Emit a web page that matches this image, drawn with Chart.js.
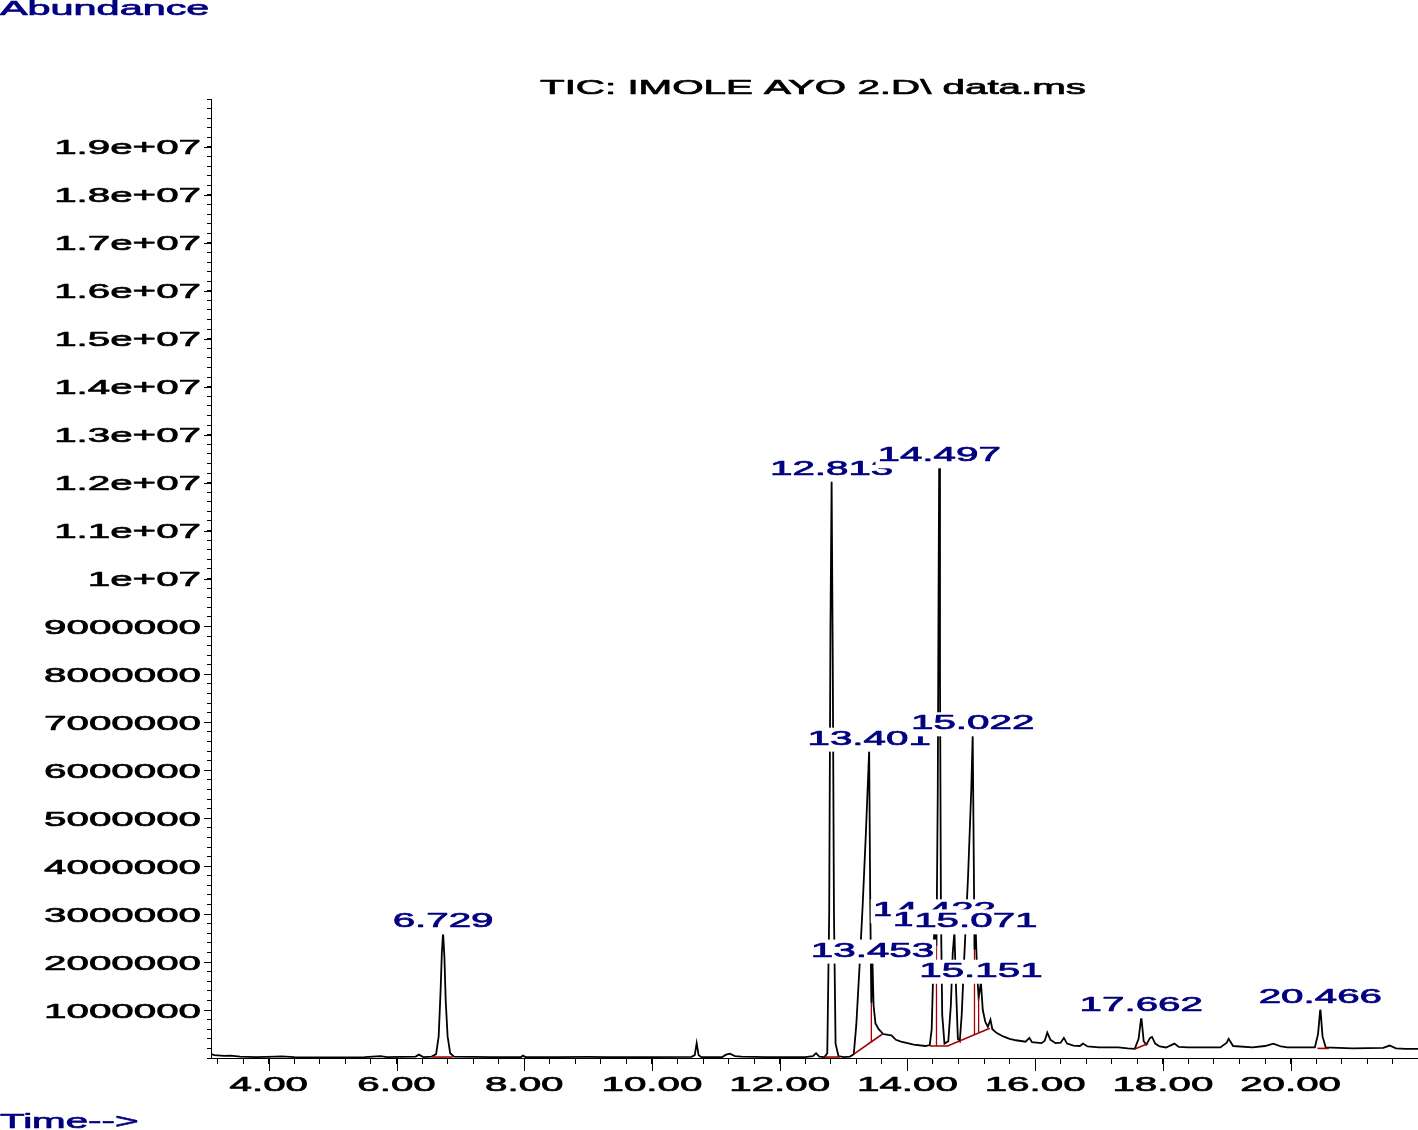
<!DOCTYPE html>
<html>
<head>
<meta charset="utf-8">
<script src="https://cdn.jsdelivr.net/npm/chart.js@4.4.1/dist/chart.umd.min.js"></script>
<style>
  html, body { margin: 0; padding: 0; background: #ffffff; }
  canvas { display: block; }
</style>
</head>
<body>
<canvas id="c" width="1418" height="1130"></canvas>
<script>
// ---- data (time in min, abundance in counts) ----
const retentionTime = [
  3.095, 3.15, 3.3, 3.4, 3.55, 3.8, 4.1, 4.2, 4.4, 5.0,
  5.5, 5.75, 5.85, 6.3, 6.35, 6.42, 6.55, 6.62, 6.66, 6.69,
  6.71, 6.729, 6.75, 6.77, 6.8, 6.84, 6.9, 7.5, 7.95, 7.98,
  8.02, 8.5, 9.0, 9.3, 10.0, 10.62, 10.67, 10.70, 10.73, 10.77,
  11.1, 11.16, 11.22, 11.3, 11.4, 11.8, 12.4, 12.52, 12.57, 12.62,
  12.7, 12.745, 12.775, 12.795, 12.813, 12.83, 12.85, 12.875, 12.92, 13.0,
  13.1, 13.16, 13.2, 13.25, 13.3, 13.35, 13.401, 13.418, 13.435, 13.453,
  13.47, 13.5, 13.55, 13.62, 13.7, 13.75, 13.82, 13.9, 14.0, 14.1,
  14.28, 14.35, 14.38, 14.4, 14.422, 14.455, 14.475, 14.487, 14.497, 14.51,
  14.525, 14.545, 14.58, 14.64, 14.68, 14.71, 14.736, 14.76, 14.79, 14.82,
  14.85, 14.89, 14.95, 15.0, 15.022, 15.04, 15.05, 15.071, 15.09, 15.115,
  15.151, 15.18, 15.22, 15.26, 15.3, 15.33, 15.4, 15.5, 15.6, 15.7,
  15.85, 15.91, 15.95, 16.1, 16.15, 16.19, 16.24, 16.32, 16.4, 16.45,
  16.5, 16.6, 16.7, 16.75, 16.82, 17.0, 17.3, 17.45, 17.56, 17.62,
  17.662, 17.7, 17.74, 17.8, 17.83, 17.88, 17.95, 18.05, 18.18, 18.25,
  18.4, 18.9, 19.0, 19.03, 19.1, 19.4, 19.6, 19.73, 19.85, 19.95,
  20.38, 20.43, 20.466, 20.5, 20.55, 20.97, 21.45, 21.55, 21.65, 21.8,
  22.0
];
const abundance = [
  0.08e6, 0.06e6, 0.045e6, 0.05e6, 0.03e6, 0.02e6, 0.03e6, 0.035e6, 0.02e6, 0.015e6,
  0.02e6, 0.04e6, 0.02e6, 0.03e6, 0.07e6, 0.02e6, 0.03e6, 0.08e6, 0.45e6, 1.4e6,
  2.2e6, 2.61e6, 2.1e6, 1.2e6, 0.45e6, 0.1e6, 0.03e6, 0.02e6, 0.02e6, 0.05e6,
  0.02e6, 0.02e6, 0.025e6, 0.02e6, 0.02e6, 0.025e6, 0.06e6, 0.31e6, 0.06e6, 0.02e6,
  0.02e6, 0.07e6, 0.09e6, 0.04e6, 0.03e6, 0.02e6, 0.02e6, 0.04e6, 0.1e6, 0.03e6,
  0.02e6, 0.1e6, 3.0e6, 9.0e6, 12.05e6, 8.5e6, 3.0e6, 0.3e6, 0.04e6, 0.02e6,
  0.03e6, 0.08e6, 0.7e6, 1.9e6, 3.2e6, 4.7e6, 6.42e6, 3.2e6, 1.15e6, 2.0e6,
  1.1e6, 0.72e6, 0.6e6, 0.5e6, 0.48e6, 0.47e6, 0.38e6, 0.34e6, 0.31e6, 0.28e6,
  0.25e6, 0.27e6, 0.6e6, 1.6e6, 2.84e6, 2.33e6, 5.5e6, 9.5e6, 12.33e6, 8.0e6,
  3.0e6, 0.9e6, 0.3e6, 0.35e6, 1.1e6, 2.2e6, 2.63e6, 1.5e6, 0.4e6, 0.35e6,
  0.9e6, 2.1e6, 3.8e6, 5.6e6, 6.74e6, 4.0e6, 2.26e6, 2.61e6, 1.8e6, 1.25e6,
  1.58e6, 1.0e6, 0.75e6, 0.65e6, 0.8e6, 0.6e6, 0.52e6, 0.45e6, 0.4e6, 0.37e6,
  0.34e6, 0.42e6, 0.33e6, 0.31e6, 0.36e6, 0.53e6, 0.38e6, 0.31e6, 0.32e6, 0.42e6,
  0.3e6, 0.26e6, 0.25e6, 0.3e6, 0.24e6, 0.22e6, 0.22e6, 0.2e6, 0.19e6, 0.4e6,
  0.86e6, 0.35e6, 0.28e6, 0.42e6, 0.44e6, 0.3e6, 0.24e6, 0.22e6, 0.3e6, 0.23e6,
  0.22e6, 0.22e6, 0.32e6, 0.4e6, 0.25e6, 0.22e6, 0.25e6, 0.3e6, 0.24e6, 0.22e6,
  0.22e6, 0.5e6, 1.04e6, 0.45e6, 0.22e6, 0.2e6, 0.21e6, 0.26e6, 0.2e6, 0.19e6,
  0.19e6
];

// integration baselines (red)
const baselineTimes = [
  [6.56, 6.88],
  [12.70, 12.94],
  [13.16, 13.61],
  [14.35, 14.63, 15.29],
  [17.56, 17.77],
  [20.42, 20.60]
];
const baselineLevels = [
  [0.02e6, 0.02e6],
  [0.02e6, 0.02e6],
  [0.08e6, 0.50e6],
  [0.25e6, 0.25e6, 0.62e6],
  [0.19e6, 0.30e6],
  [0.20e6, 0.20e6]
];
// drop lines between unresolved peaks (red)
const dropTimes  = [13.435, 14.455, 15.05, 15.115];
const dropBottom = [0.34e6, 0.25e6, 0.49e6, 0.53e6];
const dropTop    = [1.15e6, 2.33e6, 2.26e6, 1.25e6];

// peak annotations
const peakTimes  = [6.729, 12.813, 13.401, 13.453, 14.422, 14.497, 14.736, 15.022, 15.071, 15.151, 17.662, 20.466];
const peakLabels = ['6.729', '12.813', '13.401', '13.453', '14.422', '14.497', '14.736', '15.022', '15.071', '15.151', '17.662', '20.466'];
const peakApex   = [2.61e6, 12.05e6, 6.42e6, 2.0e6, 2.84e6, 12.33e6, 2.63e6, 6.74e6, 2.61e6, 1.58e6, 0.86e6, 1.04e6];

const titleText = 'TIC: IMOLE AYO 2.D\\ data.ms';
const yAxisTitle = 'Abundance';
const xAxisTitle = 'Time-->';

// ---- rendering ----
const FONT = '"Liberation Sans", Arial, Helvetica, sans-serif';
const FS = 21;
const SX = 1.92;
const NAVY = '#000080';
const RED = '#a00000';

function isMajorX(v) { return Math.abs(v / 2 - Math.round(v / 2)) < 1e-6; }
function isMajorY(v) { return Math.abs(v / 1e6 - Math.round(v / 1e6)) < 1e-6; }

function sText(ctx, str, x, y, align, color, sx) {
  sx = sx || SX;
  ctx.save();
  ctx.font = FS + 'px ' + FONT;
  ctx.textBaseline = 'alphabetic';
  ctx.textAlign = 'left';
  const w = ctx.measureText(str).width * sx;
  const left = align === 'center' ? x - w / 2 : (align === 'right' ? x - w : x);
  ctx.fillStyle = color;
  ctx.strokeStyle = color;
  ctx.lineWidth = 0.7;
  ctx.lineJoin = 'round';
  ctx.translate(left, y);
  ctx.scale(sx, 1);
  ctx.fillText(str, 0, 0);
  ctx.strokeText(str, 0, 0);
  ctx.restore();
  return { left: left, width: w };
}
function textWidth(ctx, str, sx) {
  ctx.save();
  ctx.font = FS + 'px ' + FONT;
  const w = ctx.measureText(str).width * (sx || SX);
  ctx.restore();
  return w;
}

const datasets = [];
datasets.push({
  label: 'TIC',
  data: retentionTime.map((t, i) => ({ x: t, y: abundance[i] })),
  borderColor: '#000000',
  borderWidth: 1.8,
  pointRadius: 0,
  showLine: true,
  tension: 0,
  order: 1
});
baselineTimes.forEach((ts, k) => {
  datasets.push({
    label: 'baseline' + k,
    data: ts.map((t, i) => ({ x: t, y: baselineLevels[k][i] })),
    borderColor: RED, borderWidth: 1.6, pointRadius: 0, showLine: true, tension: 0, order: 0
  });
});
dropTimes.forEach((t, k) => {
  datasets.push({
    label: 'drop' + k,
    data: [{ x: t, y: dropBottom[k] }, { x: t, y: dropTop[k] }],
    borderColor: RED, borderWidth: 1.3, pointRadius: 0, showLine: true, tension: 0, order: 0
  });
});

const decorations = {
  id: 'decorations',
  afterDraw(chart) {
    const ctx = chart.ctx;
    const xs = chart.scales.x, ys = chart.scales.y;
    const area = chart.chartArea;
    // longer major tick marks
    ctx.save();
    ctx.strokeStyle = '#000';
    ctx.lineWidth = 1;
    xs.ticks.forEach(t => {
      if (isMajorX(t.value)) {
        const px = Math.round(xs.getPixelForValue(t.value)) + 0.5;
        ctx.beginPath(); ctx.moveTo(px, area.bottom); ctx.lineTo(px, area.bottom + 13); ctx.stroke();
      }
    });
    ys.ticks.forEach(t => {
      if (isMajorY(t.value) && t.value > 0 && t.value < 2e7) {
        const py = Math.round(ys.getPixelForValue(t.value)) + 0.5;
        ctx.beginPath(); ctx.moveTo(area.left - 7, py); ctx.lineTo(area.left, py); ctx.stroke();
      }
    });
    ctx.restore();
    // tick labels (horizontally stretched like the original)
    xs.ticks.forEach(t => {
      if (t.label) sText(ctx, t.label, xs.getPixelForValue(t.value), 1091, 'center', '#000');
    });
    ys.ticks.forEach(t => {
      if (t.label) sText(ctx, t.label, 201, ys.getPixelForValue(t.value) + 7.5, 'right', '#000');
    });
    // titles
    sText(ctx, titleText, 813, 94, 'center', '#000');
    sText(ctx, yAxisTitle, 0, 15, 'left', NAVY, 1.97);
    sText(ctx, xAxisTitle, 0, 1128, 'left', NAVY);
    // peak labels with white boxes, drawn in retention order
    peakTimes.forEach((pt, i) => {
      const px = xs.getPixelForValue(pt);
      const base = ys.getPixelForValue(peakApex[i]) - 5.5;
      const w = textWidth(ctx, peakLabels[i]);
      ctx.save();
      ctx.fillStyle = '#ffffff';
      ctx.fillRect(px - w / 2 - 2, base - 17, w + 4, 24);
      ctx.restore();
      sText(ctx, peakLabels[i], px, base, 'center', NAVY);
    });
  }
};

new Chart(document.getElementById('c'), {
  type: 'scatter',
  data: { datasets: datasets },
  options: {
    responsive: false,
    animation: false,
    devicePixelRatio: 1,
    layout: { padding: { top: 99, left: 0, right: 0, bottom: 0 } },
    plugins: {
      legend: { display: false },
      tooltip: { enabled: false },
      title: { display: false }
    },
    scales: {
      x: {
        type: 'linear',
        min: 3.095,
        max: 21.995,
        afterFit(scale) { scale.height = 72; },
        border: { display: true, color: '#000', width: 1 },
        grid: { drawOnChartArea: false, drawTicks: true, tickLength: 6, color: '#000', tickColor: '#000' },
        ticks: {
          display: false,
          stepSize: 0.4,
          includeBounds: false,
          autoSkip: false,
          callback: (v) => isMajorX(v) ? Number(v).toFixed(2) : ''
        }
      },
      y: {
        type: 'linear',
        min: 0,
        max: 2e7,
        afterFit(scale) { scale.width = 211; },
        border: { display: true, color: '#000', width: 1 },
        grid: { drawOnChartArea: false, drawTicks: true, tickLength: 4, color: '#000', tickColor: '#000' },
        ticks: {
          display: false,
          stepSize: 2e5,
          includeBounds: false,
          autoSkip: false,
          callback: (v) => {
            const n = Math.round(v / 1e6);
            if (Math.abs(v - n * 1e6) > 1 || n === 0 || n >= 20) return '';
            if (n < 10) return String(n * 1000000);
            if (n === 10) return '1e+07';
            return (n / 10).toFixed(1) + 'e+07';
          }
        }
      }
    }
  },
  plugins: [decorations]
});
</script>
</body>
</html>
